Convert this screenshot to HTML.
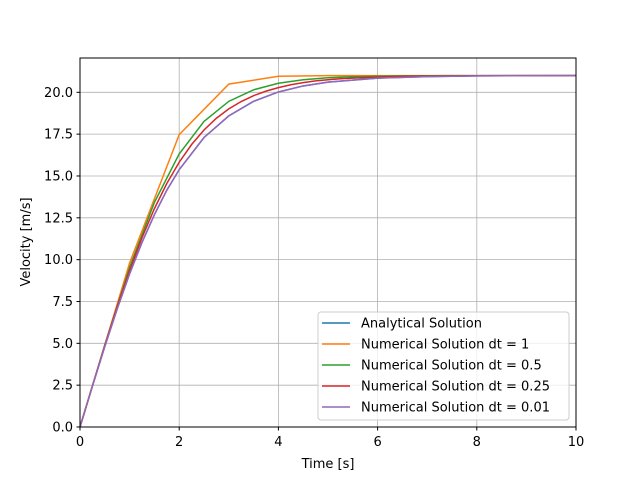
<!DOCTYPE html>
<html><head><meta charset="utf-8"><style>body{margin:0;background:#fff}svg{font-family:"DejaVu Sans","Liberation Sans",sans-serif}</style></head>
<body>
<svg width="640" height="480" viewBox="0 0 640 480">
<g id="grid"></g>
<g id="series"></g>
<rect x="80" y="58" width="496" height="369" fill="none" stroke="#000" stroke-width="1"/>
<g id="ticks"></g>
<text x="328" y="468" text-anchor="middle" font-size="13">Time [s]</text>
<text transform="translate(30,242) rotate(-90)" text-anchor="middle" font-size="13">Velocity [m/s]</text>
<g>
<rect x="318" y="312" width="251" height="108" rx="3" fill="#fff" fill-opacity="0.8" stroke="#ccc"/>
<g id="legend-items"></g>
</g>
</svg>
<script>
const xTicks=[0,2,4,6,8,10];
const yTicks=[0,2.5,5,7.5,10,12.5,15,17.5,20];
const yTickLabels=["0.0","2.5","5.0","7.5","10.0","12.5","15.0","17.5","20.0"];
const tA=[0,0.25,0.5,0.75,1,1.25,1.5,1.75,2,2.5,3,3.5,4,4.5,5,6,7,8,10];
const vA=[0,2.44,4.81,7.06,9.15,11.03,12.69,14.15,15.38,17.30,18.59,19.46,20.02,20.38,20.61,20.85,20.94,20.98,21.0];
const t1=[0,1,2,3,4,5,6,7,8,9,10];
const v1=[0,9.8,17.47,20.49,20.96,21.0,21.0,21.0,21.0,21.0,21.0];
const t05=[0,0.5,1,1.5,2,2.5,3,3.5,4,4.5,5,5.5,6,6.5,7,7.5,10];
const v05=[0,4.9,9.53,13.42,16.32,18.26,19.46,20.15,20.54,20.75,20.87,20.93,20.96,20.98,20.99,21.0,21.0];
const t025=[0,0.25,0.5,0.75,1,1.25,1.5,1.75,2,2.25,2.5,2.75,3,3.25,3.5,3.75,4,4.25,4.5,4.75,5,5.25,5.5,6,6.5,7,8,10];
const v025=[0,2.45,4.87,7.19,9.35,11.31,13.05,14.55,15.82,16.88,17.75,18.45,19.01,19.45,19.80,20.07,20.28,20.45,20.58,20.68,20.75,20.81,20.85,20.91,20.95,20.97,20.99,21.0];
const names=["Analytical Solution","Numerical Solution dt = 1","Numerical Solution dt = 0.5","Numerical Solution dt = 0.25","Numerical Solution dt = 0.01"];
const colors=["#1f77b4","#ff7f0e","#2ca02c","#d62728","#9467bd"];
const NS="http://www.w3.org/2000/svg";
const X=v=>80+v/10*496, Y=v=>427-v/22.05*369;
function mk(t,a,p){const e=document.createElementNS(NS,t);for(const k in a)e.setAttribute(k,a[k]);p.appendChild(e);return e;}
const grid=document.getElementById('grid'),ticks=document.getElementById('ticks'),ser=document.getElementById('series'),leg=document.getElementById('legend-items');
xTicks.forEach(v=>{const g=mk('line',{x1:X(v),x2:X(v),y1:58,y2:427,stroke:'#b0b0b0','stroke-width':0.8},grid);

mk('line',{x1:X(v),x2:X(v),y1:427,y2:430.5,stroke:'#000'},ticks);
const t=mk('text',{x:X(v),y:446,'text-anchor':'middle','font-size':13},ticks);t.textContent=v;
});
yTicks.forEach((v,i)=>{const g=mk('line',{x1:80,x2:576,y1:Y(v),y2:Y(v),stroke:'#b0b0b0','stroke-width':0.8},grid);

mk('line',{x1:76.5,x2:80,y1:Y(v),y2:Y(v),stroke:'#000'},ticks);
const t=mk('text',{x:73,y:Y(v)+4.5,'text-anchor':'end','font-size':13},ticks);t.textContent=yTickLabels[i];
});
const data=[[tA,vA],[t1,v1],[t05,v05],[t025,v025],[tA,vA]];
data.forEach((d,i)=>{const p=mk('polyline',{points:d[0].map((t,j)=>X(t)+','+Y(d[1][j])).join(' '),fill:'none',stroke:colors[i],'stroke-width':1.5},ser);

const y=323+i*21;mk('line',{x1:322,x2:350,y1:y,y2:y,stroke:colors[i],'stroke-width':1.5},leg);
const t=mk('text',{x:361,y:y+4.5,'font-size':13},leg);t.textContent=names[i];
});
</script>
</body></html>
